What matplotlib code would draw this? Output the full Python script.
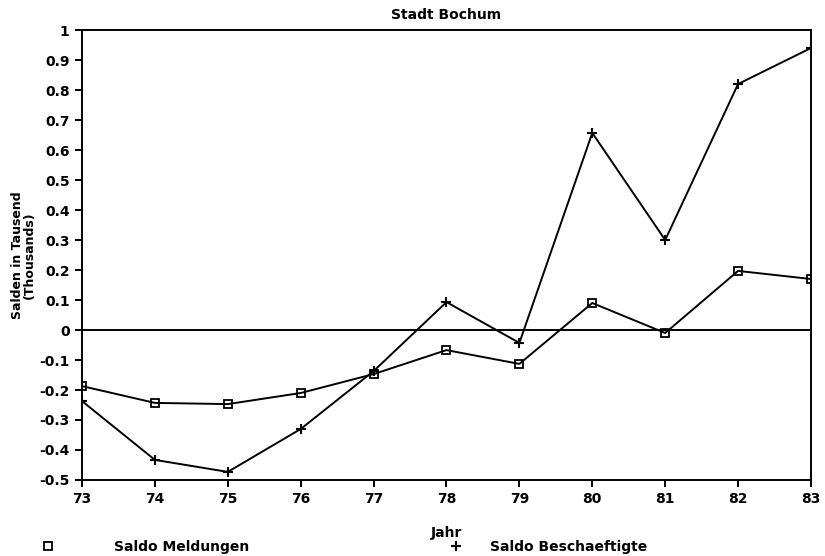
import numpy as np
import matplotlib
matplotlib.use("Agg")
import matplotlib.pyplot as plt
from matplotlib.lines import Line2D

# Daten (Salden in Tausend)
jahre = [73, 74, 75, 76, 77, 78, 79, 80, 81, 82, 83]
saldo_meldungen = [-0.187, -0.243, -0.247, -0.21, -0.147, -0.067, -0.113, 0.09, -0.01, 0.197, 0.17]
saldo_beschaeftigte = [-0.237, -0.433, -0.473, -0.33, -0.137, 0.093, -0.043, 0.657, 0.30, 0.82, 0.94]

yticks = [1, 0.9, 0.8, 0.7, 0.6, 0.5, 0.4, 0.3, 0.2, 0.1, 0, -0.1, -0.2, -0.3, -0.4, -0.5]
ytick_labels = ["1", "0.9", "0.8", "0.7", "0.6", "0.5", "0.4", "0.3", "0.2", "0.1", "0",
                "-0.1", "-0.2", "-0.3", "-0.4", "-0.5"]

plt.rcParams['font.family'] = ['DejaVu Sans']
plt.rcParams['font.weight'] = 'bold'
plt.rcParams['font.size'] = 10

fig = plt.figure(figsize=(8.25, 5.56), dpi=100)
ax = fig.add_axes([0.0994, 0.1367, 0.8836, 0.8093])

ax.plot(jahre, saldo_meldungen, color='black', lw=1.4, marker='s', ms=5.5,
        mfc='none', mec='black', mew=1.3)
ax.plot(jahre, saldo_beschaeftigte, color='black', lw=1.4, marker='+', ms=7, mew=1.5)
ax.axhline(0, color='black', lw=1.4)

ax.set_xlim(73, 83)
ax.set_ylim(-0.5, 1)
ax.set_xticks(jahre)
ax.set_xticklabels([str(j) for j in jahre])
ax.set_yticks(yticks)
ax.set_yticklabels(ytick_labels)
ax.tick_params(direction='out', length=5, width=1.4, pad=4)
for s in ax.spines.values():
    s.set_linewidth(1.4)

ax.set_title("Stadt Bochum", fontsize=10, fontweight='bold', pad=8)
ax.set_xlabel("Jahr", fontsize=10, fontweight='bold', labelpad=14)
ax.set_ylabel("Salden in Tausend\n(Thousands)", fontsize=9, fontweight='bold',
              labelpad=2, linespacing=0.9)

# Legende unten
h1 = Line2D([], [], ls='none', marker='s', ms=5.5, mfc='none', mec='black', mew=1.3)
h2 = Line2D([], [], ls='none', marker='+', ms=7, mew=1.5, color='black')
fig.legend([h1], ["Saldo Meldungen"], loc='center left', bbox_to_anchor=(0.0495, 0.016),
           frameon=False, handlelength=1, handletextpad=4.3, borderpad=0, borderaxespad=0,
           prop={'weight': 'bold', 'size': 10})
fig.legend([h2], ["Saldo Beschaeftigte"], loc='center left', bbox_to_anchor=(0.544, 0.016),
           frameon=False, handlelength=1, handletextpad=2.0, borderpad=0, borderaxespad=0,
           prop={'weight': 'bold', 'size': 10})

fig.savefig("out.png", dpi=100)
